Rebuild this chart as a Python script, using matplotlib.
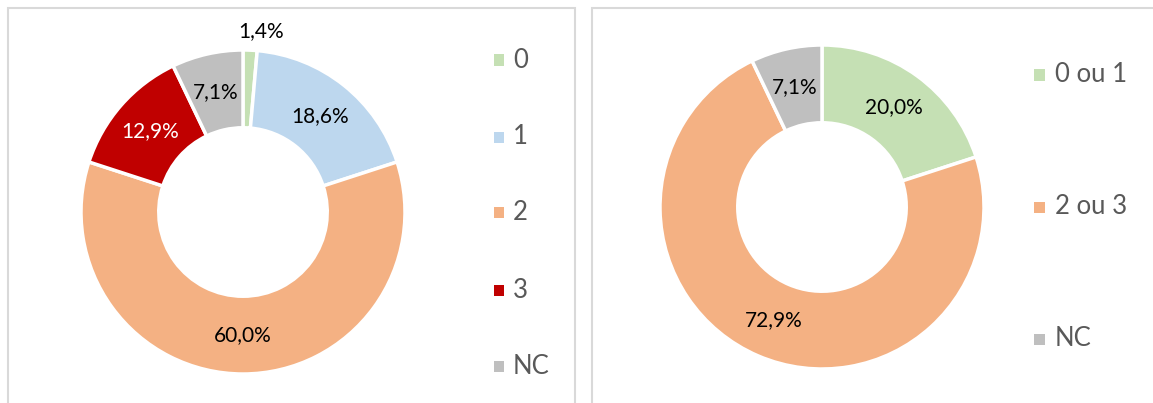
import numpy as np
import matplotlib.pyplot as plt
from matplotlib.patches import Rectangle

# Nombre de réponses par modalité (en %)
labels_left = ["0", "1", "2", "3", "NC"]
values_left = [1.4, 18.6, 60.0, 12.9, 7.1]
colors_left = ["#C5E0B4", "#BDD7EE", "#F4B183", "#C00000", "#BFBFBF"]
text_left = ["black", "black", "black", "white", "black"]

labels_right = ["0 ou 1", "2 ou 3", "NC"]
values_right = [20.0, 72.9, 7.1]
colors_right = ["#C5E0B4", "#F4B183", "#BFBFBF"]
text_right = ["black", "black", "black"]

W, H = 1153, 403
FONT = "Lato"
plt.rcParams["font.family"] = [FONT, "DejaVu Sans"]

fig = plt.figure(figsize=(W / 100, H / 100), dpi=100)


def px(x, y):
    # pixel coords (origin top-left) -> figure fraction
    return x / W, 1 - y / H


def donut(cx, cy, R, values, colors, tcolors, outside=()):
    k = 1.3
    s = 2 * R * k
    x0, y0 = px(cx - s / 2, cy + s / 2)
    ax = fig.add_axes([x0, y0, s / W, s / H])
    wedges, _ = ax.pie(values, colors=colors, startangle=90, counterclock=False,
                       radius=1.0, wedgeprops=dict(width=0.48, edgecolor="white", linewidth=2.5))
    # pie() resets the limits, so fix them afterwards
    ax.set_xlim(-k, k)
    ax.set_ylim(-k, k)
    ax.set_aspect("equal")
    ax.axis("off")
    for i, (w, v) in enumerate(zip(wedges, values)):
        ang = np.deg2rad((w.theta1 + w.theta2) / 2)
        r = 1.12 if i in outside else 0.76
        txt = f"{v:.1f}%".replace(".", ",")
        ax.text(r * np.cos(ang) + (0.06 if i in outside else 0), r * np.sin(ang), txt,
                ha="center", va="center", fontsize=15,
                color="black" if i in outside else tcolors[i])
    return ax


def legend(x_sq, x_txt, ys, labels, colors):
    for y, lab, c in zip(ys, labels, colors):
        sx, sy = px(x_sq, y + 5.5)
        fig.patches.append(Rectangle((sx, sy), 11 / W, 11 / H, transform=fig.transFigure,
                                     facecolor=c, edgecolor="none"))
        tx, ty = px(x_txt, y)
        fig.text(tx, ty, lab, ha="left", va="center", fontsize=18.5, color="#595959")


# panel frames
for x1, x2 in [(7.5, 575), (592, 1160)]:
    bx, by = px(x1, 420)
    fig.patches.append(Rectangle((bx, by), (x2 - x1) / W, (420 - 8) / H,
                                 transform=fig.transFigure, facecolor="none",
                                 edgecolor="#D9D9D9", linewidth=1.5))

donut(243, 212, 162, values_left, colors_left, text_left, outside=(0,))
legend(493.5, 513, [60, 137, 213, 290, 366], labels_left, colors_left)

donut(822, 207, 162, values_right, colors_right, text_right)
legend(1034, 1055, [75, 207, 339], labels_right, colors_right)

fig.savefig("out.png", dpi=100)
